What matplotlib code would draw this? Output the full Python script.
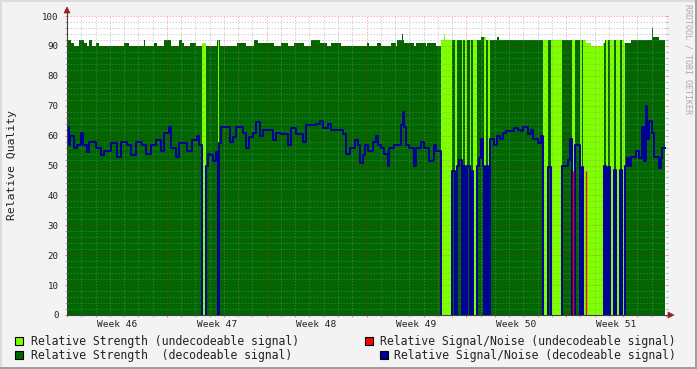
import numpy as np
import matplotlib
matplotlib.use("Agg")
import matplotlib.pyplot as plt
from matplotlib.patches import Rectangle, Polygon
from matplotlib.lines import Line2D

plt.rcParams['font.family'] = 'DejaVu Sans Mono'

# time axis: days since the start of week 46
end_day = 41.93
weeks = ["Week 46", "Week 47", "Week 48", "Week 49", "Week 50", "Week 51"]

# relative signal/noise of the decodeable signal, as steps (start day, value)
# 0 means the signal could not be decoded during that step
sn_days = [0.00, 0.07, 0.14, 0.21, 0.49, 0.70, 0.98, 1.12, 1.40, 1.54,
           2.01, 2.36, 2.59, 3.06, 3.52, 3.76, 4.22, 4.46, 4.81, 5.27,
           5.51, 5.86, 6.21, 6.56, 6.79, 7.14, 7.26, 7.61, 7.84, 8.42,
           8.77, 9.12, 9.24, 9.46, 9.73, 9.87, 10.01, 10.22, 10.43, 10.60,
           10.67, 10.83, 11.41, 11.64, 11.88, 12.34, 12.58, 12.76, 13.04, 13.28,
           13.51, 13.74, 14.44, 14.68, 15.03, 15.49, 15.73, 16.08, 16.54, 16.78,
           17.48, 17.71, 17.94, 18.29, 18.53, 19.34, 19.58, 19.81, 20.16, 20.39,
           20.51, 20.74, 20.86, 21.09, 21.44, 21.68, 21.79, 22.03, 22.26, 22.49,
           22.61, 22.96, 23.43, 23.54, 23.66, 23.78, 24.01, 24.36, 24.48, 24.83,
           25.06, 25.41, 25.64, 25.76, 25.88, 26.23, 26.97, 27.21, 27.37, 27.46,
           27.70, 27.74, 27.91, 28.05, 28.26, 28.33, 28.49, 28.72, 28.86, 29.03,
           29.14, 29.26, 29.38, 29.54, 29.68, 29.96, 30.17, 30.38, 30.54, 30.78,
           31.36, 31.59, 31.83, 31.94, 32.29, 32.53, 32.64, 32.99, 33.23, 33.39,
           33.76, 33.93, 34.74, 35.14, 35.26, 35.44, 35.63, 35.96, 36.10, 36.19,
           37.66, 37.78, 37.94, 38.08, 38.36, 38.48, 38.78, 38.90, 39.11, 39.25,
           39.41, 39.53, 39.88, 40.11, 40.34, 40.46, 40.58, 40.69, 40.81, 41.04,
           41.16, 41.51, 41.63, 41.74]
sn_vals = [59, 63, 57, 60, 56, 57, 61, 57, 54.5, 58,
           56, 53.5, 55, 57.5, 53, 58, 57, 53.5, 58, 57,
           54, 57, 58.5, 55, 61, 63, 56, 53, 57.5, 55,
           58.5, 60, 57, 0, 50, 54, 53.5, 51.5, 54.5, 0,
           57.5, 63, 58, 59.5, 62.8, 61, 56, 59.5, 61, 64.5,
           60, 62, 58.5, 61, 60.5, 57, 62.5, 60.5, 58, 63.5,
           64, 65, 62.5, 64, 62, 60.5, 54, 56, 58.5, 57,
           51, 53.5, 57, 55, 58, 60, 57, 56, 54, 50,
           56, 57, 63.5, 68, 63, 57, 56, 50, 56, 58,
           56, 51.5, 52, 57, 55, 0, 48, 0, 50, 52,
           0, 50, 0, 50, 0, 48, 0, 50, 52.5, 59,
           50, 0, 50, 0, 59, 57, 60, 59, 61, 61.5,
           62.5, 62, 61.5, 63, 60.5, 62, 59, 57.5, 60, 0,
           49.5, 0, 50, 52, 59, 0, 57, 0, 49.5, 0,
           50, 0, 49.5, 0, 48.5, 0, 48.5, 0, 50, 52.5,
           50, 53, 55, 52.5, 63, 51.5, 70, 59, 65, 61,
           53, 49, 52.5, 56]

# relative strength, as steps (start day, value)
strength_days = [0.00, 0.28, 0.49, 0.84, 1.19, 1.40, 1.54, 1.75, 2.03, 2.24,
                 3.99, 4.34, 5.39, 5.46, 6.09, 6.30, 6.79, 7.28, 7.84, 8.05,
                 8.19, 8.61, 9.03, 9.45, 9.73, 10.50, 10.71, 11.90, 12.53, 13.09,
                 13.37, 14.49, 14.98, 15.47, 15.89, 16.59, 17.08, 17.71, 18.20, 18.48,
                 19.18, 21.00, 21.21, 21.77, 22.05, 22.75, 23.10, 23.17, 23.52, 23.59,
                 23.66, 24.36, 24.50, 25.20, 25.27, 25.90, 26.25, 26.46, 26.53, 29.05,
                 29.40, 30.17, 30.31, 36.40, 36.75, 37.59, 37.73, 39.06, 39.55, 41.02,
                 41.09, 41.51]
strength_vals = [92, 91, 90, 92, 91, 90, 92, 90, 91, 90,
                 91, 90, 92, 90, 91, 90, 92, 90, 92, 91,
                 90, 91, 90, 91, 90, 92, 90, 91, 90, 92,
                 91, 90, 91, 90, 91, 90, 92, 91, 90, 91,
                 90, 91, 90, 91, 90, 91, 90, 92, 94, 92,
                 91, 90, 91, 90, 91, 90, 92, 94, 92, 93,
                 92, 93, 92, 91, 90, 91, 92, 91, 92, 96,
                 93, 92]

# signal/noise of the undecodeable signal (only two short readings)
snu_days = [35.49, 36.38]
snu_vals = [48, 48]

legend_labels = ["Relative Strength (undecodeable signal)",
                 "Relative Strength  (decodeable signal)",
                 "Relative Signal/Noise (undecodeable signal)",
                 "Relative Signal/Noise (decodeable signal)"]

light = "#80ff00"
dark = "#006600"
red = "#ff0000"
blue = "#000099"

# evaluate the step series on the union of step starts
t = np.unique(np.concatenate([sn_days, strength_days]))
sn = np.array(sn_vals, float)[np.searchsorted(sn_days, t, side="right") - 1]
st = np.array(strength_vals, float)[np.searchsorted(strength_days, t, side="right") - 1]
t = np.append(t, end_day)
sn = np.append(sn, sn[-1])
st = np.append(st, st[-1])
dec = sn > 0

W, H = 697, 369
fig = plt.figure(figsize=(W / 100, H / 100), dpi=100, facecolor="#f3f3f3")
ax = fig.add_axes([67 / W, 1 - 315 / H, 599 / W, 299 / H])
ax.set_facecolor("white")

ax.fill_between(t, 0, np.where(dec, 0, st), step="post", color=light, lw=0, antialiased=False, zorder=1)
ax.fill_between(t, 0, np.where(dec, st, 0), step="post", color=dark, lw=0, antialiased=False, zorder=1)
# the line drops out of sight while the signal is undecodeable
ax.step(t, np.where(dec, sn, -2), where="post", color=blue, lw=1.4, zorder=3)
ax.vlines(snu_days, 0, snu_vals, color=red, lw=1.0, zorder=4)

ax.set_xlim(0, end_day)
ax.set_ylim(0, 100)

# rrdtool style dotted grid drawn over the areas
minor_c = (0.55, 0.55, 0.55, 0.4)
major_c = (1.0, 0.0, 0.0, 0.3)
dots = (0, (1.5, 1.5))
for d in range(1, 42):
    ax.axvline(d, color=major_c if d % 7 == 0 else minor_c, lw=0.72, ls=dots, zorder=2)
for v in range(2, 101, 2):
    ax.axhline(v, color=major_c if v % 10 == 0 else minor_c, lw=0.72, ls=dots, zorder=2)

ax.set_yticks(range(0, 101, 10))
ax.set_yticks(range(0, 101, 2), minor=True)
ax.set_xticks(range(0, 43, 7))
ax.set_xticks(range(0, 42), minor=True)
ax.set_xticklabels([])
ax.tick_params(axis="y", which="both", left=True, right=True, direction="out",
               length=1.6, width=0.72, labelsize=6.6, pad=4.5, labelcolor="#222222")
ax.tick_params(axis="x", which="both", bottom=True, direction="out", length=1.6, width=0.72)
ax.tick_params(which="major", color="#e08080")
ax.tick_params(which="minor", color="#b0b0b0")

for s in ["top", "right", "left", "bottom"]:
    ax.spines[s].set_visible(False)

for i, w in enumerate(weeks):
    ax.text(3.5 + 7 * i, -0.031, w, transform=ax.get_xaxis_transform(),
            ha="center", va="center", fontsize=6.8, color="#222222")


def fx(x):
    return x / W


def fy(y):
    return 1 - y / H


# axis lines with arrows
axis_c = "#404040"
arrow_c = "#a02020"
fig.add_artist(Line2D([fx(67), fx(67)], [fy(315), fy(11)], color=axis_c, lw=0.8))
fig.add_artist(Line2D([fx(67), fx(670)], [fy(315), fy(315)], color=axis_c, lw=0.8))
fig.add_artist(Polygon([(fx(67), fy(7)), (fx(64), fy(13)), (fx(70), fy(13))],
                       closed=True, transform=fig.transFigure, fc=arrow_c, ec=arrow_c, lw=0.5))
fig.add_artist(Polygon([(fx(674), fy(315)), (fx(668), fy(312)), (fx(668), fy(318))],
                       closed=True, transform=fig.transFigure, fc=arrow_c, ec=arrow_c, lw=0.5))

fig.text(fx(12), fy(165), "Relative Quality", rotation=90, ha="center", va="center",
         fontsize=8.2, color="#222222")
fig.text(fx(688), fy(59), "RRDTOOL / TOBI OETIKER", rotation=270, ha="center", va="center",
         fontsize=6.0, color="#aaaaaa")

# legend
legend_pos = [(15, 337, 30.5, 341), (15, 351, 30.5, 355), (365, 337, 380.5, 341), (379.5, 351, 394.5, 355)]
legend_cols = [light, dark, red, blue]
for (bx, by, tx, ty), c, lab in zip(legend_pos, legend_cols, legend_labels):
    fig.add_artist(Rectangle((fx(bx), fy(by + 8)), 8 / W, 8 / H, transform=fig.transFigure,
                             fc=c, ec="black", lw=0.8))
    fig.text(fx(tx), fy(ty), lab, ha="left", va="center", fontsize=8.3, color="#222222")

# 3d frame of the canvas
fig.add_artist(Rectangle((0, 1 - 2 / H), 1, 2 / H, transform=fig.transFigure, fc="#dcdcdc", lw=0))
fig.add_artist(Rectangle((0, 0), 2 / W, 1, transform=fig.transFigure, fc="#dcdcdc", lw=0))
fig.add_artist(Rectangle((0, 0), 1, 2 / H, transform=fig.transFigure, fc="#a0a0a0", lw=0))
fig.add_artist(Rectangle((1 - 2 / W, 0), 2 / W, 1, transform=fig.transFigure, fc="#a0a0a0", lw=0))

fig.savefig("out.png", dpi=100, facecolor=fig.get_facecolor())
